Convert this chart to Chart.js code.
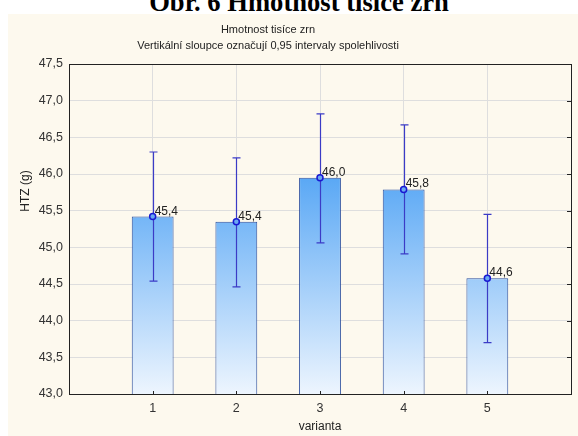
<!DOCTYPE html>
<html>
<head>
<meta charset="utf-8">
<script src="https://cdn.jsdelivr.net/npm/chart.js@4.4.1/dist/chart.umd.min.js"></script>
<style>
  html, body { margin: 0; padding: 0; background: #fff; overflow: hidden; }
  body { width: 578px; height: 436px; position: relative; }
  #fig {
    position: absolute; left: 0; top: -13px; width: 598px; text-align: center;
    font: bold 26.6px "Liberation Serif", "Times New Roman", serif; color: #000;
    line-height: 30px; white-space: nowrap;
  }
  #panel { position: absolute; left: 8px; top: 14px; width: 570px; height: 422px; background: #fdf9ee; }
</style>
</head>
<body>
<div id="fig">Obr. 6 Hmotnost tisíce zrn</div>
<div id="panel"><canvas id="chart" width="570" height="422"></canvas></div>
<script>
const titleLines = ['Hmotnost tisíce zrn', 'Vertikální sloupce označují 0,95 intervaly spolehlivosti']
const yTitle = 'HTZ (g)'
const xTitle = 'varianta'

const variants = [1, 2, 3, 4, 5]
const means = [45.42, 45.35, 45.95, 45.79, 44.58]
const lower = [44.54, 44.46, 45.06, 44.91, 43.70]
const upper = [46.30, 46.22, 46.82, 46.67, 45.45]
const yTicks = [43.0, 43.5, 44.0, 44.5, 45.0, 45.5, 46.0, 46.5, 47.0, 47.5]

const fmt = v => v.toFixed(1).replace('.', ',')
const FONT = '"Liberation Sans", Arial, sans-serif'

// mean values, error bars, frame, titles
const extras = {
  id: 'extras',
  afterDatasetDraw(chart, args) {
    if (args.meta.type !== 'bar') return
    const { ctx, scales: { x, y } } = chart
    ctx.save()
    ctx.strokeStyle = '#3b3bc6'
    ctx.lineWidth = 1.2
    variants.forEach((v, i) => {
      const px = Math.round(x.getPixelForValue(v)) + 0.5
      const top = y.getPixelForValue(upper[i])
      const bot = y.getPixelForValue(lower[i])
      ctx.beginPath()
      ctx.moveTo(px, top); ctx.lineTo(px, bot)
      ctx.moveTo(px - 4, top); ctx.lineTo(px + 4, top)
      ctx.moveTo(px - 4, bot); ctx.lineTo(px + 4, bot)
      ctx.stroke()
    })
    ctx.restore()
  },
  afterDatasetsDraw(chart) {
    const { ctx, chartArea: a, scales: { x, y } } = chart
    ctx.save()
    // value labels
    ctx.fillStyle = '#222'
    ctx.font = '12px ' + FONT
    ctx.textAlign = 'left'
    ctx.textBaseline = 'alphabetic'
    variants.forEach((v, i) => {
      ctx.fillText(fmt(means[i]), x.getPixelForValue(v) + 2, y.getPixelForValue(means[i]) - 2)
    })
    // frame
    ctx.strokeStyle = '#222'
    ctx.lineWidth = 1
    ctx.strokeRect(Math.round(a.left) + 0.5, Math.round(a.top) + 0.5, Math.round(a.right - a.left), Math.round(a.bottom - a.top))
    ctx.beginPath()
    yTicks.forEach(t => {
      const py = Math.round(y.getPixelForValue(t)) + 0.5
      ctx.moveTo(a.right - 4, py); ctx.lineTo(a.right, py)
    })
    variants.forEach(v => {
      const px = Math.round(x.getPixelForValue(v)) + 0.5
      ctx.moveTo(px, a.bottom - 3); ctx.lineTo(px, a.bottom)
    })
    ctx.stroke()
    // titles
    ctx.fillStyle = '#222'
    ctx.font = '11px ' + FONT
    ctx.textAlign = 'center'
    ctx.fillText(titleLines[0], 260, 19)
    ctx.fillText(titleLines[1], 260, 35)
    ctx.font = '12px ' + FONT
    ctx.translate(18, 177)
    ctx.rotate(-Math.PI / 2)
    ctx.textBaseline = 'middle'
    ctx.fillText(yTitle, 0, 0)
    ctx.restore()
  }
}

new Chart(document.getElementById('chart'), {
  type: 'bar',
  data: {
    datasets: [{
      type: 'bar',
      order: 2,
      data: variants.map((v, i) => ({ x: v, y: means[i] })),
      backgroundColor(c) {
        const a = c.chart.chartArea
        if (!a) return '#8cc0f7'
        const g = c.chart.ctx.createLinearGradient(0, a.top, 0, a.bottom)
        g.addColorStop(0, '#4a9ff3')
        g.addColorStop(0.345, '#5aa8f5')
        g.addColorStop(1, '#edf5fe')
        return g
      },
      borderColor: '#2c4f9e',
      borderWidth: 1,
      borderSkipped: 'bottom',
      barPercentage: 0.5,
      categoryPercentage: 1
    }, {
      type: 'line',
      order: 1,
      data: variants.map((v, i) => ({ x: v, y: means[i] })),
      showLine: false,
      pointRadius: 3,
      pointBorderWidth: 1.5,
      pointBorderColor: '#1818d2',
      pointBackgroundColor: '#6aa8f2'
    }]
  },
  options: {
    responsive: false,
    animation: false,
    layout: { padding: { top: 50, right: 7, left: 0, bottom: 0 } },
    plugins: { legend: { display: false }, tooltip: { enabled: false } },
    scales: {
      x: {
        type: 'linear',
        offset: false,
        min: 0, max: 6,
        afterFit(s) { s.height = 42 },
        border: { display: false },
        grid: { color: '#dedede', drawTicks: false, offset: false },
        ticks: {
          stepSize: 1, padding: 7, color: '#333',
          font: { family: FONT, size: 12.5 },
          callback: v => (v >= 1 && v <= 5) ? String(v) : ''
        },
        title: { display: true, text: xTitle, color: '#222', font: { family: FONT, size: 12 }, padding: { top: 0, bottom: 2 } }
      },
      y: {
        min: 43, max: 47.5,
        afterFit(s) { s.width = 61 },
        border: { display: false },
        grid: { color: '#dedede', drawTicks: false },
        ticks: {
          stepSize: 0.5, padding: 6, color: '#333',
          font: { family: FONT, size: 12.5 },
          callback: v => fmt(v)
        }
      }
    }
  },
  plugins: [extras]
})
</script>
</body>
</html>
